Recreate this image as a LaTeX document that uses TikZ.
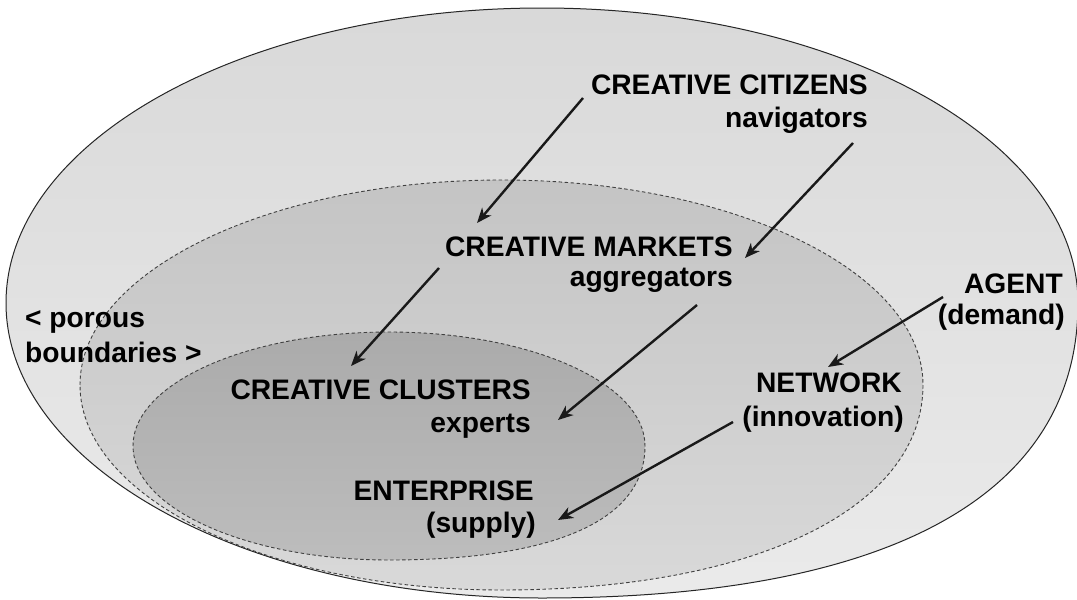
\documentclass[tikz,border=0pt]{standalone}
\usepackage{fontspec}
\setmainfont{Liberation Sans}
\usetikzlibrary{arrows.meta}
\begin{document}
\begin{tikzpicture}[x=1pt,y=-1pt,
  lbl/.style={inner sep=0pt,anchor=base east,font=\bfseries\fontsize{28.2}{33}\selectfont},
  lbll/.style={inner sep=0pt,anchor=base west,font=\bfseries\fontsize{28.2}{33}\selectfont},
  arr/.style={line width=2.4pt,draw=black!90,-{Stealth[length=15pt,width=12pt,inset=4.5pt]}},
  dsh/.style={draw=black!75,line width=0.9pt,dash pattern=on 3.5pt off 2.5pt}]
\useasboundingbox (0,0) rectangle (1077,600);
\fill[white] (0,0) rectangle (1077,600);
% outer region
\def\outerpath{(6,303) .. controls (6,140) and (246,8) .. (542,8)
  .. controls (838,8) and (1078,140) .. (1078,303)
  .. controls (1078,495) and (890,598) .. (542,598)
  .. controls (246,598) and (6,466) .. (6,303) -- cycle}
\shade[top color=black!15,bottom color=black!8] \outerpath;
\draw[black!85,line width=1pt] \outerpath;
% middle region
\def\midpath{(80,385) .. controls (80,271.8) and (268.8,180) .. (501.5,180)
  .. controls (734.2,180) and (923,271.8) .. (923,385)
  .. controls (923,508) and (755.5,590) .. (501.5,590)
  .. controls (268.8,590) and (80,498.2) .. (80,385) -- cycle}
\shade[top color=black!23,bottom color=black!15] \midpath;
\draw[dsh] \midpath;
% inner region
\def\innpath{(133,446) .. controls (133,383.1) and (247.7,332) .. (389,332)
  .. controls (530.3,332) and (645,383.1) .. (645,446)
  .. controls (645,520) and (555.4,560) .. (389,560)
  .. controls (247.7,560) and (133,508.9) .. (133,446) -- cycle}
\shade[top color=black!33,bottom color=black!26] \innpath;
\draw[dsh] \innpath;
% labels
\node[lbl] (cit1) at (868,94) {CREATIVE CITIZENS};
\node[lbl] (cit2) at (868,127) {navigators};
\node[lbl] (mkt1) at (733,256) {CREATIVE MARKETS};
\node[lbl] (mkt2) at (733,286) {aggregators};
\node[lbl] (clu1) at (531,399) {CREATIVE CLUSTERS};
\node[lbl] (clu2) at (531,432) {experts};
\node[lbl] (ent1) at (534,500) {ENTERPRISE};
\node[lbl] (ent2) at (536,532) {(supply)};
\node[lbl] (age1) at (1063,293) {AGENT};
\node[lbl] (age2) at (1065,324) {(demand)};
\node[lbl] (net1) at (902,392) {NETWORK};
\node[lbl] (net2) at (904,426) {(innovation)};
\node[lbll] (por1) at (25,327) {< porous};
\node[lbll] (por2) at (25,362) {boundaries >};
% arrow end points
\coordinate (a1s) at (583,98);  \coordinate (a1e) at (477,223);
\coordinate (a2s) at (853,143); \coordinate (a2e) at (745,258);
\coordinate (a3s) at (439,268); \coordinate (a3e) at (351,366);
\coordinate (a4s) at (697,305); \coordinate (a4e) at (558,420);
\coordinate (a5s) at (943,297); \coordinate (a5e) at (828,367);
\coordinate (a6s) at (733,422); \coordinate (a6e) at (558,520);
\draw[arr] (a1s) -- (a1e);
\draw[arr] (a2s) -- (a2e);
\draw[arr] (a3s) -- (a3e);
\draw[arr] (a4s) -- (a4e);
\draw[arr] (a5s) -- (a5e);
\draw[arr] (a6s) -- (a6e);
\end{tikzpicture}
\end{document}
